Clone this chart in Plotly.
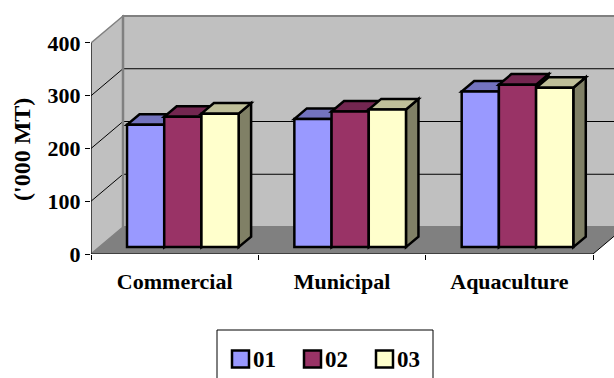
import plotly.graph_objects as go

# ---------------- data ----------------
categories = ["Commercial", "Municipal", "Aquaculture"]
series_names = ["01", "02", "03"]
values_01 = [232, 243, 295]
values_02 = [247, 257, 308]
values_03 = [253, 261, 302]
y_tick_values = [0, 100, 200, 300, 400]
y_axis_title = "('000 MT)"

series_values = [values_01, values_02, values_03]

# ---------------- styles ----------------
front_colors = ["#9999FF", "#993366", "#FFFFCC"]
top_colors = ["#7373BF", "#732650", "#BFBF99"]
side_colors = ["#5C5C99", "#5C1F3D", "#808066"]
FONT = "Liberation Serif, Times New Roman, serif"

FIG_W, FIG_H = 614, 378
M_L, M_B = 91, 124
PLOT_W, PLOT_H = FIG_W - M_L, FIG_H - M_B
X_RANGE = [-0.5, 2.6255]
Y_RANGE = [0, 481.5]
PXX = PLOT_W / (X_RANGE[1] - X_RANGE[0])
PXY = PLOT_H / (Y_RANGE[1] - Y_RANGE[0])
D_X = 32 / PXX          # full depth of the 3D box, in axis units
D_Y = 27 / PXY
FRONT = 0.255           # bars' front plane (fraction of depth)
DEPTH = 0.39            # bar depth (fraction of depth)
BARGAP = 0.333
NS = len(series_values)
BW = (1 - BARGAP) / NS


def paper_x(px):
    return (px - M_L) / PLOT_W


def paper_y(py):
    return (PLOT_H - py) / PLOT_H


def bold(s):
    return f"<b>{s}</b>"


fig = go.Figure()

# invisible trace so the front-plane axes exist
fig.add_trace(go.Scatter(x=[None], y=[None], xaxis="x", yaxis="y",
                         showlegend=False, hoverinfo="skip"))

xs = list(range(len(categories)))
for j, (name, vals) in enumerate(zip(series_names, series_values)):
    fig.add_trace(go.Bar(
        x=xs, y=vals, name=name, xaxis="x2", yaxis="y2",
        hovertext=categories,
        marker=dict(color=front_colors[j], line=dict(color="black", width=2.5)),
        showlegend=False,
    ))

shapes = []
# ---- walls & floor (front plane coordinates) ----
bx0 = X_RANGE[0] + D_X
shapes.append(dict(type="rect", xref="x", yref="y", layer="below",
                   x0=bx0, x1=2.5 + D_X + 1, y0=D_Y, y1=400 + D_Y,
                   fillcolor="#C0C0C0", line=dict(color="#808080", width=2)))
shapes.append(dict(type="path", xref="x", yref="y", layer="below",
                   path=f"M{-0.5},{0} L{-0.5},{400} L{bx0},{400 + D_Y} L{bx0},{D_Y} Z",
                   fillcolor="#C0C0C0", line=dict(color="#808080", width=1.5)))
shapes.append(dict(type="path", xref="x", yref="y", layer="below",
                   path=f"M{-0.5},{0} L{2.5},{0} L{2.5 + D_X},{D_Y} L{bx0},{D_Y} Z",
                   fillcolor="#808080", line=dict(width=0)))
shapes.append(dict(type="line", xref="x", yref="y", layer="below",
                   x0=2.5, y0=0, x1=2.5 + D_X, y1=D_Y,
                   line=dict(color="black", width=1)))
for v in y_tick_values[1:-1]:
    shapes.append(dict(type="line", xref="x", yref="y", layer="below",
                       x0=bx0, y0=v + D_Y, x1=2.5 + D_X + 1, y1=v + D_Y,
                       line=dict(color="black", width=1)))
    shapes.append(dict(type="line", xref="x", yref="y", layer="below",
                       x0=-0.5, y0=v, x1=bx0, y1=v + D_Y,
                       line=dict(color="black", width=1)))
# back wall left edge (grey)
shapes.append(dict(type="line", xref="x", yref="y", layer="below",
                   x0=bx0, y0=D_Y, x1=bx0, y1=400 + D_Y,
                   line=dict(color="#808080", width=2.5)))

# ---- 3D tops & sides of bars (bar plane coordinates) ----
ddx, ddy = DEPTH * D_X, DEPTH * D_Y
for i in range(len(categories)):
    for j in range(NS):
        v = series_values[j][i]
        x0 = i - (1 - BARGAP) / 2 + j * BW
        x1 = x0 + BW
        shapes.append(dict(type="path", xref="x2", yref="y2", layer="below",
                           path=f"M{x1},{0} L{x1 + ddx},{ddy} L{x1 + ddx},{v + ddy} L{x1},{v} Z",
                           fillcolor=side_colors[j], line=dict(color="black", width=2.5)))
        shapes.append(dict(type="path", xref="x2", yref="y2", layer="below",
                           path=f"M{x0},{v} L{x1},{v} L{x1 + ddx},{v + ddy} L{x0 + ddx},{v + ddy} Z",
                           fillcolor=top_colors[j], line=dict(color="black", width=2.5)))

# ---- front axis lines ----
shapes.append(dict(type="line", xref="x", yref="y", layer="above",
                   x0=-0.5, y0=0, x1=-0.5, y1=400, line=dict(color="black", width=1)))
shapes.append(dict(type="line", xref="x", yref="y", layer="above",
                   x0=-0.5, y0=0, x1=2.5, y1=0, line=dict(color="black", width=1)))

# ---- custom legend ----
shapes.append(dict(type="rect", xref="paper", yref="paper", layer="above",
                   x0=paper_x(217), x1=paper_x(433), y0=paper_y(395), y1=paper_y(330),
                   fillcolor="white", line=dict(color="black", width=1)))
annotations = []
leg_x = [232, 304, 376]
for j, name in enumerate(series_names):
    shapes.append(dict(type="rect", xref="paper", yref="paper", layer="above",
                       x0=paper_x(leg_x[j]), x1=paper_x(leg_x[j] + 17),
                       y0=paper_y(367.5), y1=paper_y(350.5),
                       fillcolor=front_colors[j], line=dict(color="black", width=2.5)))
    annotations.append(dict(xref="paper", yref="paper", x=paper_x(leg_x[j] + 19),
                            y=paper_y(359), xanchor="left", yanchor="middle",
                            text=bold(name), showarrow=False,
                            font=dict(family=FONT, size=23, color="black")))

annotations.append(dict(xref="paper", yref="paper", x=paper_x(22), y=paper_y(150),
                        xanchor="center", yanchor="middle", textangle=-90,
                        text=bold(y_axis_title), showarrow=False,
                        font=dict(family=FONT, size=24, color="black")))

tickfont = dict(family=FONT, size=22, color="black")
fig.update_layout(
    width=FIG_W, height=FIG_H,
    margin=dict(l=M_L, r=0, t=0, b=M_B, pad=0),
    paper_bgcolor="white", plot_bgcolor="rgba(0,0,0,0)",
    barmode="group", bargap=BARGAP, bargroupgap=0,
    showlegend=False,
    xaxis=dict(range=X_RANGE, tickmode="array", tickvals=xs,
               ticktext=[bold(c) for c in categories],
               ticks="", showgrid=False, zeroline=False, showline=False,
               tickfont=tickfont, ticklabelstandoff=12,
               minor=dict(tickmode="array", tickvals=[-0.5, 0.5, 1.5, 2.5],
                          ticks="outside", ticklen=5, tickcolor="black", tickwidth=1,
                          showgrid=False)),
    yaxis=dict(range=Y_RANGE, tickmode="array", tickvals=y_tick_values,
               ticktext=[bold(v) for v in y_tick_values],
               ticks="outside", ticklen=5, tickcolor="black", tickwidth=1,
               showgrid=False, zeroline=False, showline=False, tickfont=tickfont,
               ticklabelstandoff=0),
    xaxis2=dict(range=[X_RANGE[0] - FRONT * D_X, X_RANGE[1] - FRONT * D_X],
                overlaying="x", visible=False, anchor="y2"),
    yaxis2=dict(range=[Y_RANGE[0] - FRONT * D_Y, Y_RANGE[1] - FRONT * D_Y],
                overlaying="y", visible=False, anchor="x2"),
    shapes=shapes, annotations=annotations,
)

fig.write_html("out.html")
